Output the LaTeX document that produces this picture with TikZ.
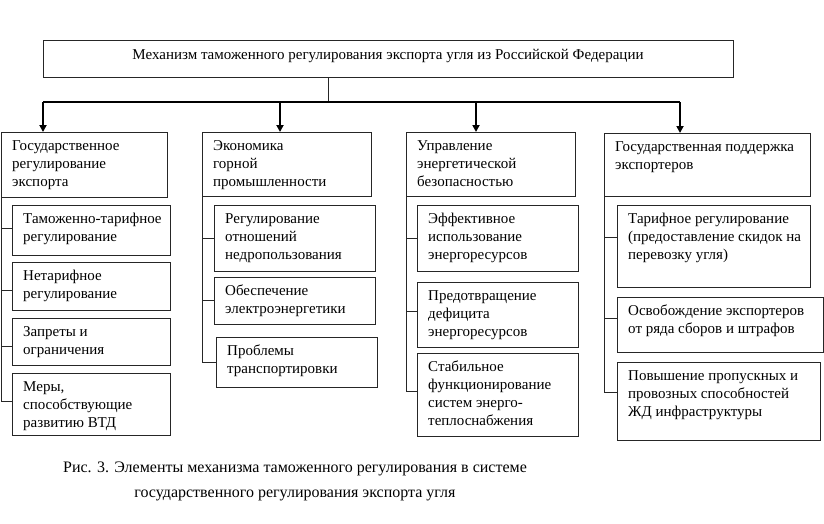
\documentclass[tikz,border=0pt]{standalone}
\usepackage{fontspec}
\setmainfont{Liberation Serif}
\usetikzlibrary{arrows.meta,calc}
\newcommand{\tabl}[1]{\begin{tabular}[t]{@{}l@{}}#1\end{tabular}}
\tikzset{
  box/.style={draw=black!85, line width=0.8pt, anchor=north west, inner sep=0pt, outer sep=0pt},
  txt/.style={anchor=base west, inner sep=0pt, font=\fontsize{15}{18}\selectfont},
  conn/.style={draw=black!85, line width=0.8pt},
  bus/.style={draw=black, line width=1.3pt},
  arr/.style={draw=black, line width=1.8pt, -{Triangle[width=7pt,length=7pt]}},
}
\newcommand{\bx}[6]{%
  \node[box, minimum width={(#4-#2)*1pt}, minimum height={(#5-#3)*1pt}] (#1) at (#2,#3) {};
  \node[txt] (#1t) at ([xshift=11pt,yshift=-18pt]#1.north west) {\tabl{#6}};
}
\begin{document}
\begin{tikzpicture}[x=1pt,y=-1pt]
\useasboundingbox[fill=white] (0,0) rectangle (824,523);
% top box
\node[box, minimum width=690pt, minimum height=37pt] (top) at (43,40) {};
\node[txt, anchor=center] (topt) at ([yshift=3pt]top.center) {Механизм таможенного регулирования экспорта угля из Российской Федерации};
% headers
\bx{h1}{1}{132}{167}{197}{Государственное\\регулирование\\экспорта}
\bx{h2}{202}{132}{371}{196}{Экономика\\горной\\промышленности}
\bx{h3}{406}{132}{575}{196}{Управление\\энергетической\\безопасностью}
\bx{h4}{604}{133}{810}{196}{Государственная поддержка\\экспортеров}
% column 1
\bx{s11}{12}{205}{170}{255}{Таможенно-тарифное\\регулирование}
\bx{s12}{12}{262}{170}{310}{Нетарифное\\регулирование}
\bx{s13}{12}{318}{170}{365}{Запреты и\\ограничения}
\bx{s14}{12}{373}{170}{435}{Меры,\\способствующие\\развитию ВТД}
% column 2
\bx{s21}{214}{205}{375}{271}{Регулирование\\отношений\\недропользования}
\bx{s22}{214}{277}{375}{324}{Обеспечение\\электроэнергетики}
\bx{s23}{216}{337}{377}{387}{Проблемы\\транспортировки}
% column 3
\bx{s31}{417}{205}{578}{271}{Эффективное\\использование\\энергоресурсов}
\bx{s32}{417}{282}{578}{347}{Предотвращение\\дефицита\\энергоресурсов}
\bx{s33}{417}{353}{578}{436}{Стабильное\\функционирование\\систем энерго-\\теплоснабжения}
% column 4
\bx{s41}{617}{205}{810}{287}{Тарифное регулирование\\(предоставление скидок на\\перевозку угля)}
\bx{s42}{617}{297}{823}{352}{Освобождение экспортеров\\от ряда сборов и штрафов}
\bx{s43}{617}{362}{820}{440}{Повышение пропускных и\\провозных способностей\\ЖД инфраструктуры}
% bus and arrows
\coordinate (bc) at (328,102);
\coordinate (b1) at (43,102);
\coordinate (b2) at (280,102);
\coordinate (b3) at (476,102);
\coordinate (b4) at (680,102);
\draw[conn] (top.south -| bc) -- (bc);
\draw[bus] (b1) -- (b4);
\draw[arr] (b1) -- (b1 |- h1.north);
\draw[arr] (b2) -- (b2 |- h2.north);
\draw[arr] (b3) -- (b3 |- h3.north);
\draw[arr] (b4) -- (b4 |- h4.north);
% column connectors
\draw[conn] ([yshift=3pt]s14.west) -| (h1.south west);
\foreach \s/\d in {s11/2pt,s12/-4pt,s13/-5pt} \draw[conn] ([yshift=\d]\s.west) -| (h1.south west);
\draw[conn] (s23.west) -| (h2.south west);
\foreach \s in {s21,s22} \draw[conn] (\s.west) -| (h2.south west);
\draw[conn] ([yshift=3pt]s33.west) -| (h3.south west);
\draw[conn] (s31.west) -| (h3.south west);
\draw[conn] ([yshift=3pt]s32.west) -| (h3.south west);
\draw[conn] ([yshift=9pt]s43.west) -| (h4.south west);
\draw[conn] ([yshift=9pt]s41.west) -| (h4.south west);
\draw[conn] ([yshift=6pt]s42.west) -| (h4.south west);
% caption
\node[anchor=base, inner sep=0pt, font=\fontsize{16}{25}\selectfont] (cap) at (295,472)
  {\begin{tabular}[t]{@{}c@{}}Рис. 3. Элементы механизма таможенного регулирования в системе\\государственного регулирования экспорта угля\end{tabular}};
\end{tikzpicture}
\end{document}
